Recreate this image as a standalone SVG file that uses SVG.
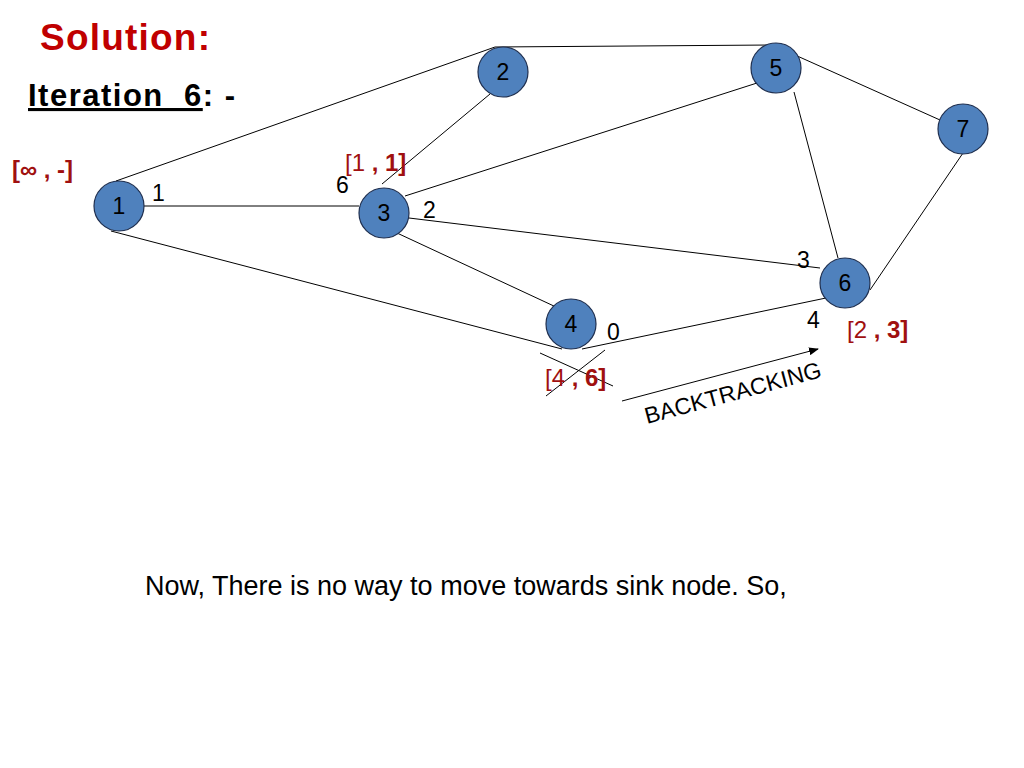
<svg xmlns="http://www.w3.org/2000/svg" width="1024" height="768" viewBox="0 0 1024 768">
<style>
.n{fill:#4f81bd;stroke:#1f2f4f;stroke-width:1.2}
.nt{font-family:"Liberation Sans",Arial,sans-serif;font-size:23px;text-anchor:middle;fill:#000}
.e{stroke:#000;stroke-width:1;fill:none}
.w{font-family:"Liberation Sans",Arial,sans-serif;font-size:23px;fill:#000}
.r{font-family:"Liberation Sans",Arial,sans-serif;font-size:24px;fill:#a01010}
</style>
<defs><marker id="ah" markerWidth="10" markerHeight="8" refX="9" refY="4" orient="auto" markerUnits="userSpaceOnUse"><path d="M0,0 L10,4 L0,8 z" fill="#000"/></marker></defs>
<rect width="1024" height="768" fill="#fff"/>
<text x="40" y="50" font-family="Liberation Sans,Arial,sans-serif" font-size="37" font-weight="bold" fill="#c00000" textLength="170">Solution:</text>
<text x="28" y="106" font-family="Liberation Sans,Arial,sans-serif" font-size="31" font-weight="bold" fill="#000" letter-spacing="1.5" xml:space="preserve"><tspan text-decoration="underline">Iteration  6</tspan>: -</text>
<g id="connectors">
<line class="e" x1="116" y1="181" x2="495" y2="47"/>
<line class="e" x1="495" y1="47" x2="772" y2="45"/>
<line class="e" x1="144" y1="206" x2="359" y2="206"/>
<line class="e" x1="111" y1="231" x2="562" y2="349"/>
<line class="e" x1="490" y1="94" x2="382" y2="184"/>
<line class="e" x1="405" y1="196" x2="757" y2="83"/>
<line class="e" x1="409" y1="218" x2="820" y2="268"/>
<line class="e" x1="397" y1="233" x2="556" y2="307"/>
<line class="e" x1="582" y1="349" x2="826" y2="298"/>
<line class="e" x1="795" y1="55" x2="940" y2="120"/>
<line class="e" x1="794" y1="92" x2="838" y2="258"/>
<line class="e" x1="870" y1="290" x2="963" y2="153"/>
<line class="e" x1="540" y1="353" x2="613" y2="386"/>
<line class="e" x1="546" y1="396" x2="605" y2="350"/>
<line class="e" x1="622" y1="401" x2="818" y2="349" marker-end="url(#ah)"/>
</g>
<g id="n1"><circle class="n" cx="119" cy="206" r="25"/><text class="nt" x="119" y="214">1</text></g>
<g id="n2"><circle class="n" cx="503" cy="72" r="25"/><text class="nt" x="503" y="80">2</text></g>
<g id="n3"><circle class="n" cx="384" cy="213" r="25"/><text class="nt" x="384" y="221">3</text></g>
<g id="n4"><circle class="n" cx="571" cy="324" r="25"/><text class="nt" x="571" y="332">4</text></g>
<g id="n5"><circle class="n" cx="776" cy="68" r="25"/><text class="nt" x="776" y="76">5</text></g>
<g id="n6"><circle class="n" cx="845" cy="283" r="25"/><text class="nt" x="845" y="291">6</text></g>
<g id="n7"><circle class="n" cx="963" cy="129" r="25"/><text class="nt" x="963" y="137">7</text></g>
<text class="w" x="152" y="201">1</text>
<text class="w" x="336" y="193">6</text>
<text class="w" x="423" y="218">2</text>
<text class="w" x="797" y="268">3</text>
<text class="w" x="807" y="328">4</text>
<text class="w" x="607" y="340">0</text>
<text class="r" x="12" y="178" font-weight="bold">[∞ , -]</text>
<text class="r" x="345" y="171">[1 <tspan font-weight="bold">, 1]</tspan></text>
<text class="r" x="847" y="338">[2 <tspan font-weight="bold">, 3]</tspan></text>
<text class="r" x="545" y="386">[4 <tspan font-weight="bold">, 6]</tspan></text>
<text class="w" x="0" y="0" transform="translate(647,424) rotate(-15)" textLength="182">BACKTRACKING</text>
<text x="145" y="595" font-family="Liberation Sans,Arial,sans-serif" font-size="27" fill="#000">Now, There is no way to move towards sink node. So,</text>
</svg>
